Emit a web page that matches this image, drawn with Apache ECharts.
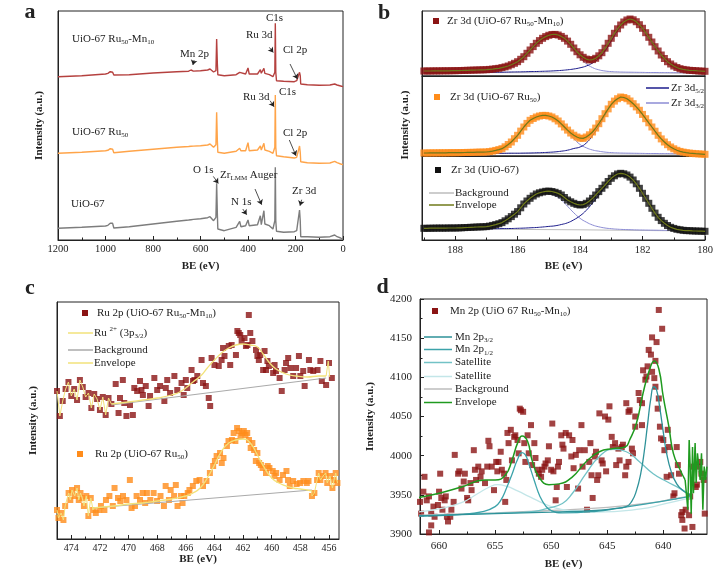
<!DOCTYPE html>
<html>
<head>
<meta charset="utf-8">
<title>XPS spectra</title>
<style>
  html, body { margin: 0; padding: 0; background: #fff; }
  #chart { width: 715px; height: 572px; }
</style>
</head>
<body>
<div id="chart"></div>
<script src="https://cdn.jsdelivr.net/npm/echarts@6/dist/echarts.min.js"></script>
<script>
// ---------------------------------------------------------------------------
// Data. Intensities of a, b, c are arbitrary units.
// ---------------------------------------------------------------------------

// (a) survey spectra
var surveyE = [1200, 1100, 1000, 990, 980, 975, 970, 965, 960, 900, 800, 700, 650, 640, 630, 600, 570, 560, 555, 545,
  540, 535, 532, 529, 527, 520, 500, 450, 435, 430, 410, 400, 395, 360, 348, 344, 338, 333, 329, 310,
  295, 287, 285, 283, 280, 250, 205, 195, 188, 183, 180, 178, 150, 100, 55, 50, 35, 30, 25, 10, 0];
var surveyUio = [11.7, 12.7, 14, 14.7, 16.7, 18.3, 16.7, 12, 11.3, 13.3, 16, 18.7, 20, 20.3, 20.6, 21.3, 22.3, 23.3, 23, 19.3,
  18.7, 22.7, 56.7, 26, 11, 9.3, 9.3, 12.7, 18.7, 13.3, 14.3, 20, 14.3, 15.3, 24.3, 15.3, 16.7, 29.3, 16, 14.3,
  11, 19.3, 72.7, 19.3, 8.7, 7.7, 8.3, 9.3, 7.7, 30, 19.3, 3.3, 3.3, 2.7, 3.3, 4.3, 5, 6, 3.3, 2, 0.7];
var surveyRu = [86.7, 87.7, 89.3, 89.7, 91.3, 92, 90.7, 87.3, 86.7, 88.7, 90.7, 92.7, 93.5, 93.7, 93.9, 94.3, 95, 96, 95.3, 92.7,
  92, 95.3, 127.7, 99, 87.7, 86, 86.7, 88.7, 91.7, 89.3, 89.3, 97.3, 89.3, 90, 94, 90, 90.7, 96.7, 90, 88.7,
  86.7, 92.7, 145, 92.7, 84.3, 83.3, 82, 82.7, 81, 94, 87.7, 78.3, 77.3, 76.7, 77, 77.7, 78.7, 80, 77.3, 76, 75.3];
var surveyRuMn = [163.3, 164.3, 166, 166.7, 168.3, 169.3, 167.7, 165, 164, 165.3, 167, 168.3, 168.8, 170, 168.9, 169.3, 170, 171, 170.7, 168,
  167.3, 169.3, 201, 176, 165.3, 164, 164.3, 165.3, 167.7, 166, 166, 172, 166, 166, 170.3, 166.7, 167.3, 171.7, 166.7, 165.3,
  163.3, 167.7, 216.7, 167.7, 159.3, 158.7, 158.3, 159.3, 157.7, 167.7, 164.3, 156, 155.3, 154.7, 155, 155.3, 156, 156.3, 155, 154, 153.3];
// peak arrows: [fromE, fromI, toE, toI]
var surveyArrows = [[627, 180, 632, 175], [310, 192.6, 293.5, 187.6], [223, 176, 192, 161],
  [307, 139.3, 290.5, 133.3], [226, 100, 198, 84.3], [546, 63.6, 525, 56.6],
  [370.5, 51, 342.5, 35.3], [422, 31, 405.5, 25.3], [174, 40.3, 181, 34.3]];
var surveyTicks = [0, 200, 400, 600, 800, 1000, 1200];
var surveyMinor = [100, 300, 500, 700, 900, 1100];

// (b) Zr 3d
var zrE = [189.0, 188.9, 188.8, 188.7, 188.6, 188.5, 188.4, 188.3, 188.2, 188.1, 188.0, 187.9, 187.8, 187.7, 187.6, 187.5,
  187.4, 187.3, 187.2, 187.1, 187.0, 186.9, 186.8, 186.7, 186.6, 186.5, 186.4, 186.3, 186.2, 186.1, 186.0, 185.9,
  185.8, 185.7, 185.6, 185.5, 185.4, 185.3, 185.2, 185.1, 185.0, 184.9, 184.8, 184.7, 184.6, 184.5, 184.4, 184.3,
  184.2, 184.1, 184.0, 183.9, 183.8, 183.7, 183.6, 183.5, 183.4, 183.3, 183.2, 183.1, 183.0, 182.9, 182.8, 182.7,
  182.6, 182.5, 182.4, 182.3, 182.2, 182.1, 182.0, 181.9, 181.8, 181.7, 181.6, 181.5, 181.4, 181.3, 181.2, 181.1,
  181.0, 180.9, 180.8, 180.7, 180.6, 180.5, 180.4, 180.3, 180.2, 180.1, 180.0];
var zrRuMn = [4.0, 4.0, 4.0, 4.1, 4.1, 4.1, 4.2, 4.2, 4.2, 4.3, 4.3, 4.4, 4.5, 4.6, 4.7, 4.8, 4.9, 5.0, 5.1, 5.2,
  5.3, 5.6, 5.9, 6.3, 6.7, 7.4, 8.1, 9.0, 10.3, 11.7, 13.3, 15.7, 18.3, 21.7, 25.0, 28.4, 31.7, 34.4, 36.7, 38.4,
  39.7, 40.5, 40.6, 40.0, 38.6, 36.7, 33.9, 30.7, 27.0, 23.3, 20.2, 17.7, 15.9, 15.0, 15.4, 16.7, 19.2, 22.3, 26.8, 31.7,
  36.7, 41.7, 46.2, 50.0, 53.0, 55.0, 56.0, 55.2, 53.3, 50.3, 46.7, 42.3, 37.7, 33.0, 28.3, 24.0, 20.0, 16.5, 13.3, 11.0,
  9.0, 7.5, 6.3, 5.6, 5.1, 4.7, 4.5, 4.3, 4.0, 3.9, 3.7];
var zrRu = [4.0, 4.0, 4.1, 4.1, 4.1, 4.2, 4.2, 4.2, 4.3, 4.3, 4.3, 4.4, 4.4, 4.5, 4.6, 4.6, 4.7, 4.8, 4.9, 4.9,
  5.0, 5.4, 5.9, 6.6, 7.4, 8.3, 10.2, 12.5, 15.0, 18.3, 21.7, 25.9, 30.0, 33.6, 36.7, 38.5, 40.0, 41.0, 41.6, 41.6,
  41.0, 40.0, 38.2, 36.0, 33.1, 30.0, 26.9, 24.0, 21.8, 20.0, 18.8, 18.6, 20.0, 22.2, 25.0, 28.9, 33.3, 38.3, 43.3, 48.1,
  52.7, 55.9, 58.3, 60.0, 59.5, 58.3, 56.0, 53.3, 50.1, 46.7, 42.6, 38.3, 34.2, 30.0, 25.8, 21.7, 18.1, 15.0, 12.3, 10.0,
  8.2, 6.7, 5.6, 4.9, 4.3, 3.9, 3.6, 3.3, 3.1, 2.9, 2.7];
var zrUio = [11.0, 11.0, 11.1, 11.1, 11.2, 11.2, 11.2, 11.2, 11.3, 11.3, 11.3, 11.4, 11.5, 11.7, 11.8, 12.0, 12.1, 12.3, 12.4, 12.5,
  12.7, 13.2, 13.9, 14.7, 15.6, 16.7, 18.5, 20.5, 22.7, 25.1, 27.7, 31.5, 35.3, 38.3, 41.0, 43.3, 45.3, 46.5, 47.3, 48.0,
  48.2, 47.8, 47.0, 45.9, 44.3, 41.8, 39.3, 37.5, 36.0, 34.9, 34.3, 34.7, 36.0, 38.3, 41.0, 44.3, 47.7, 51.0, 54.3, 57.8,
  61.0, 63.5, 65.3, 66.0, 65.5, 64.3, 62.2, 59.3, 55.5, 51.0, 46.0, 41.0, 36.0, 31.0, 26.2, 22.0, 18.7, 16.0, 13.8, 12.0,
  10.9, 10.0, 9.5, 9.0, 8.7, 8.6, 8.4, 8.3, 8.2, 8.1, 8.0];
var zrCompE = [189, 188, 187, 186.5, 186.2, 186, 185.8, 185.6, 185.4, 185.2, 185, 184.8, 184.6, 184.4, 184.2, 184, 183.8,
  183.6, 183.4, 183.2, 183, 182.8, 182.6, 182.4, 182.2, 182, 181.8, 181.6, 181.4, 181.2, 181, 180.5, 180];
var zrRuMn32 = [2.3, 2.6, 3.6, 6.5, 9.8, 12.5, 17.2, 23.8, 30.3, 35.2, 38.3, 39.3, 37.3, 32.2, 24.8, 17.2, 11.3,
  7.4, 5.2, 4.0, 3.4, 3.1, 2.9, 2.8, 2.7, 2.6, 2.5, 2.5, 2.4, 2.4, 2.3, 2.3, 2.2];
var zrRuMn52 = [2.3, 2.4, 2.6, 2.8, 3.0, 3.1, 3.2, 3.4, 3.5, 3.7, 3.9, 4.2, 4.6, 5.2, 6.0, 7.2, 9.0,
  12.0, 16.5, 24.0, 34.0, 44.5, 52.5, 55.8, 53.0, 46.5, 37.5, 28.2, 19.9, 13.2, 9.0, 4.6, 3.6];
var zrRu32 = [4.0, 4.3, 5.0, 8.2, 14.8, 21.4, 29.6, 36.2, 39.4, 40.9, 40.2, 37.2, 32.0, 25.8, 18.5, 12.5, 9.2,
  7.0, 5.8, 4.9, 4.4, 4.1, 3.9, 3.8, 3.7, 3.6, 3.5, 3.5, 3.4, 3.4, 3.3, 3.1, 2.8];
var zrRu52 = [3.6, 3.6, 3.7, 3.7, 3.8, 3.8, 3.9, 4.0, 4.2, 4.4, 4.7, 5.1, 5.8, 6.8, 8.5, 10.0, 14.0,
  21.5, 30.8, 42.0, 52.0, 58.0, 59.6, 56.0, 50.0, 42.5, 34.0, 25.8, 18.0, 12.2, 8.2, 3.9, 2.7];
var zrUio32 = [10.8, 11.1, 12.4, 16.3, 22.1, 26.9, 34.3, 39.8, 43.8, 45.6, 45.5, 43.5, 39.5, 33.0, 26.5, 21.0, 17.2,
  14.3, 12.5, 11.3, 10.6, 10.1, 9.8, 9.6, 9.4, 9.3, 9.2, 9.1, 9.0, 8.9, 8.8, 8.5, 8.2];
var zrUio52 = [10.3, 10.4, 10.5, 10.7, 10.8, 11.0, 11.2, 11.5, 11.8, 12.3, 12.9, 13.5, 14.8, 16.5, 19.5, 23.5, 29.0,
  36.3, 44.0, 52.3, 59.7, 64.7, 65.3, 62.0, 55.3, 46.0, 36.0, 26.3, 18.8, 13.9, 11.0, 8.7, 8.0];
var zrBgE = [189, 184, 180];
var zrRuMnBg = [2.5, 2.2, 1.8];
var zrRuBg = [3.8, 3.4, 2.6];
var zrUioBg = [10.5, 9.5, 8.2];
var zrTicks = [180, 182, 184, 186, 188];
var zrMinor = [181, 183, 185, 187, 189];

// (c) Ru 2p, points are [BE, intensity]
var ruMnPts = [[475.0, 148], [474.8, 123], [474.6, 138], [474.4, 150], [474.2, 157], [474.0, 143], [473.8, 150], [473.6, 139],
  [473.4, 159], [473.2, 152], [473.0, 142], [472.8, 146], [472.6, 131], [472.4, 145], [472.2, 140], [472.0, 129],
  [471.8, 142], [471.6, 124], [471.4, 141], [471.2, 135],
  [470.9, 155], [470.7, 126], [470.6, 141], [470.4, 159], [470.3, 136], [470.15, 123], [469.9, 134], [469.7, 124],
  [469.6, 151], [469.4, 148], [469.2, 158], [469.1, 149], [469.0, 144], [468.8, 153], [468.6, 133], [468.5, 143],
  [468.2, 161], [468.0, 149], [467.8, 153], [467.5, 138], [467.4, 151], [467.3, 159], [467.1, 146], [466.8, 163],
  [466.6, 149], [466.3, 156], [466.15, 144], [466.0, 159], [465.9, 151], [465.6, 169], [465.5, 158], [465.4, 159],
  [465.2, 163], [464.9, 179], [464.8, 156], [464.6, 153], [464.4, 141], [464.3, 133], [464.2, 181], [464.0, 174],
  [463.7, 173], [463.5, 179], [463.4, 191], [463.3, 183], [463.0, 193], [462.9, 174], [462.8, 194], [462.5, 184],
  [462.4, 208], [462.3, 206], [462.2, 204], [462.1, 198], [461.9, 201], [461.8, 193], [461.7, 194], [461.6, 224],
  [461.5, 206], [461.35, 198], [461.1, 189], [461.0, 183], [460.9, 179], [460.8, 184], [460.6, 169], [460.5, 188],
  [460.4, 169], [460.3, 178], [460.2, 173], [459.9, 166], [459.8, 174], [459.7, 168], [459.45, 161], [459.3, 148],
  [459.1, 169], [459.0, 176], [458.85, 181], [458.7, 171], [458.5, 163], [458.3, 171], [458.1, 183], [458.0, 163],
  [457.8, 168], [457.7, 153], [457.4, 179], [457.3, 169], [457.1, 168], [456.8, 169], [456.6, 178], [456.5, 158],
  [456.2, 154], [456.0, 176], [455.8, 161]];
var ruMnEnv = [[471.2, 135], [470, 137], [469, 139], [468, 141], [467, 144], [466.3, 148], [465.5, 157], [464.9, 164],
  [464.5, 171], [464, 179], [463.5, 186], [463, 191], [462.5, 194], [462, 195], [461.5, 194], [461, 192],
  [460.6, 185], [460.2, 177], [459.7, 170], [459, 165], [458.3, 163], [457.5, 162], [456.7, 163], [456.2, 163]];
var ruMnTail = [[456.2, 163], [456.05, 178], [455.95, 162]];
var ruMnBg = [[471.2, 134], [456.2, 161]];
var ruPts = [[475.0, 29], [474.9, 21], [474.71, 26], [474.55, 19], [474.43, 33], [474.19, 46], [474.07, 39], [473.95, 49],
  [473.76, 43], [473.6, 51], [473.48, 39], [473.36, 46], [473.24, 41], [473.12, 33], [472.95, 43], [472.81, 23],
  [472.64, 41], [472.48, 29],
  [472.29, 26], [472.05, 29], [471.93, 33], [471.69, 29], [471.58, 39], [471.34, 43], [471.1, 33], [470.98, 51],
  [470.74, 41], [470.58, 38], [470.39, 43], [470.15, 39], [469.91, 59], [469.79, 31], [469.55, 33], [469.44, 43],
  [469.2, 39], [469.01, 46], [468.84, 36], [468.72, 46], [468.48, 39], [468.25, 46], [468.01, 38], [467.77, 43],
  [467.53, 33], [467.41, 53], [467.18, 39], [467.06, 49], [466.82, 43], [466.7, 54], [466.58, 33], [466.34, 43],
  [466.23, 36], [466.11, 43], [465.87, 46], [465.75, 49], [465.51, 53], [465.27, 58], [465.04, 59], [464.8, 53],
  [464.56, 58], [464.32, 66], [464.09, 73], [463.97, 78], [463.85, 83], [463.61, 86], [463.49, 76], [463.37, 81],
  [463.13, 93], [463.02, 98], [462.78, 99], [462.66, 106], [462.54, 98], [462.42, 111], [462.3, 108], [462.18, 103],
  [462.06, 106], [461.95, 108], [461.83, 104], [461.71, 106], [461.59, 99], [461.47, 91], [461.35, 96], [461.23, 89],
  [461.11, 78], [461.0, 86], [460.88, 76], [460.76, 74], [460.64, 71], [460.4, 66], [460.28, 73], [460.16, 71],
  [459.93, 68], [459.81, 63], [459.69, 66], [459.45, 59], [459.21, 64], [458.97, 68], [458.86, 59], [458.74, 53],
  [458.5, 58], [458.26, 55], [458.02, 56], [457.79, 58], [457.55, 56], [457.43, 58],
  [457.19, 43], [457.02, 46], [456.83, 59], [456.72, 66], [456.6, 59], [456.41, 63], [456.24, 66], [456.12, 56],
  [455.93, 63], [455.76, 51], [455.65, 59], [455.53, 66], [455.41, 56]];
var ruEnv = [[472.5, 31], [471, 33], [470, 35], [469, 36], [468, 38], [467, 40], [466, 43], [465.5, 46], [465, 51],
  [464.5, 61], [464, 74], [463.5, 88], [463, 96], [462.5, 99], [462, 100], [461.5, 96], [461, 84], [460.5, 71],
  [460, 61], [459.5, 56], [459, 53], [458.5, 51], [458, 50], [457.5, 49], [457.2, 48]];
var ruBg = [[472.5, 31], [457.2, 49]];
var ruTicks = [456, 458, 460, 462, 464, 466, 468, 470, 472, 474];
var ruMinor = [457, 459, 461, 463, 465, 467, 469, 471, 473];

// (d) Mn 2p, points are [BE, counts]
var mnPts = [[661.9, 3952], [661.7, 3941], [661.6, 3926], [661.4, 3954], [661.3, 3973], [661.1, 3943], [660.9, 3948],
  [660.9, 3902], [660.7, 3926], [660.7, 3911], [660.5, 3935], [660.4, 3922], [660.1, 3937], [660.0, 3954], [659.9, 3977],
  [659.8, 3946], [659.7, 3931], [659.5, 3943], [659.4, 3948], [659.3, 3922], [659.2, 3916], [659.0, 3922], [658.9, 3931],
  [658.7, 3941], [658.6, 4001], [658.3, 3977], [658.2, 3980], [658.0, 3958], [657.8, 3967], [657.7, 3977], [657.5, 3946],
  [657.4, 3943], [657.2, 3965], [657.1, 3956], [656.9, 4007], [656.8, 3982], [656.7, 3969], [656.5, 3986], [656.3, 3973],
  [656.2, 3980], [655.9, 3965], [655.7, 3986], [655.6, 4019], [655.5, 4012], [655.3, 3986], [655.1, 3956], [654.9, 3992],
  [654.8, 3980], [654.7, 3992], [654.5, 4005], [654.4, 3982], [654.2, 3977], [654.1, 3941], [654.0, 3969], [653.9, 4029],
  [653.8, 4016], [653.6, 4033], [653.5, 3994], [653.3, 4024], [653.2, 4026], [653.0, 4020], [652.9, 4003], [652.8, 4060],
  [652.7, 4058], [652.5, 4056], [652.4, 4016], [652.3, 3992], [652.1, 4026], [652.0, 4003], [651.8, 4039], [651.7, 3988],
  [651.5, 4016], [651.4, 3997], [651.2, 3982], [651.1, 3977], [650.9, 3973], [650.8, 3982], [650.6, 3986], [650.5, 3990],
  [650.3, 3994], [650.2, 4012], [650.0, 3982], [649.9, 4041], [649.8, 3980], [649.6, 3943], [649.5, 3960], [649.4, 3986],
  [649.3, 3992], [649.1, 4026], [649.0, 4014], [648.9, 4009], [648.7, 4029], [648.6, 3960], [648.4, 4026], [648.2, 3999],
  [648.1, 4020], [648.0, 3984], [647.8, 4001], [647.6, 3958], [647.5, 4007], [647.3, 4039], [647.2, 3986], [647.0, 4007],
  [646.8, 3931], [646.6, 3992], [646.5, 4016], [646.4, 3975], [646.3, 3946], [646.1, 3999], [646.0, 4005], [645.9, 3969],
  [645.8, 3975], [645.7, 4054], [645.5, 3994], [645.4, 3990], [645.2, 4050], [645.1, 3980], [644.9, 4046], [644.8, 4063],
  [644.6, 4024], [644.5, 4011], [644.3, 4016], [644.2, 3988], [644.0, 4009], [643.9, 3994], [643.7, 4011], [643.6, 4014],
  [643.4, 3975], [643.3, 3986], [643.3, 4067], [643.1, 4056], [643.1, 3992], [643.0, 4058], [642.8, 4009], [642.7, 4003],
  [642.5, 4050], [642.5, 4037], [642.2, 4080], [642.1, 4071], [641.9, 4067], [641.9, 4039], [641.8, 4109], [641.6, 4097],
  [641.5, 4101], [641.4, 4114], [641.3, 4135], [641.1, 4129], [641.0, 4151], [641.0, 4107], [640.8, 4099], [640.7, 4088],
  [640.7, 4121], [640.6, 4145], [640.5, 4060], [640.4, 4073], [640.4, 4186], [640.3, 4037], [640.2, 4022], [640.1, 4162],
  [640.0, 4020], [639.9, 4007], [639.7, 3973], [639.6, 4033], [639.5, 4011], [639.3, 3975], [639.1, 3948], [639.0, 3952],
  [638.8, 4011], [638.7, 3988], [638.6, 3977], [638.4, 3924], [638.3, 3928], [638.3, 3918], [638.1, 3907], [638.0, 3931],
  [637.7, 3924], [637.6, 3948], [637.4, 3909], [637.3, 3986], [637.1, 3960], [637.0, 3963], [636.9, 3986], [636.7, 3992],
  [636.6, 3977], [636.4, 3969], [636.3, 3926]];
var mn32 = [[662, 3923], [655, 3926], [650, 3928], [646, 3930], [644.5, 3932], [643.3, 3935], [642.8, 3942], [642.4, 3955],
  [642, 3978], [641.7, 4005], [641.4, 4040], [641.1, 4074], [640.85, 4088], [640.6, 4084], [640.3, 4060], [640, 4030],
  [639.7, 4003], [639.3, 3980], [638.8, 3964], [638.2, 3955], [637.6, 3950]];
var mn12 = [[662, 3923], [658, 3925], [656, 3929], [655, 3935], [654.5, 3943], [654, 3958], [653.5, 3976], [653, 3995],
  [652.6, 4004], [652.3, 4001], [652, 3990], [651.5, 3968], [651, 3948], [650.5, 3936], [650, 3930], [649, 3927],
  [646, 3929], [644, 3933], [640, 3942], [637.6, 3948]];
var mnSat1 = [[662, 3923], [654, 3927], [651.5, 3929], [650.5, 3932], [649, 3939], [648.1, 3952], [646.9, 3977],
  [645.7, 3999], [644.5, 4008], [643.3, 4005], [642.1, 3992], [640.9, 3977], [639.7, 3967], [638.5, 3958], [637.6, 3950]];
var mnSat2 = [[662, 3928], [660, 3932], [658, 3940], [656.5, 3952], [655.5, 3960], [654.8, 3963], [654, 3961], [653, 3955],
  [652, 3948], [651, 3941], [650, 3935], [648.5, 3930], [646, 3928], [642, 3932], [640, 3938], [637.6, 3946]];
var mnBg = [[662, 3924], [655, 3927], [650, 3930], [645, 3934], [641, 3940], [639, 3945], [637.6, 3948]];
var mnEnv = [[662, 3946], [660, 3952], [658, 3960], [655.9, 3969], [655, 3969], [654.1, 3975], [653.5, 3994], [653, 4016],
  [652.6, 4025], [652.1, 4018], [651.7, 3994], [651.1, 3973], [650.2, 3963], [649.3, 3964], [648.1, 3973], [646.9, 3992],
  [645.7, 4005], [644.5, 4009], [643.4, 4011], [643, 4020], [642.4, 4041], [641.8, 4080], [641.2, 4111], [640.8, 4121],
  [640.4, 4111], [640, 4075], [639.5, 4037], [639.1, 4003], [638.5, 3982], [638.05, 3969]];
var mnEnvTail = [[638.05, 3969], [637.81, 3931], [637.69, 4020], [637.6, 3986], [637.51, 3926], [637.39, 4011],
  [637.31, 3952], [637.16, 4016], [637.07, 3965], [636.95, 4003], [636.83, 3986], [636.71, 3969], [636.59, 4003],
  [636.47, 3931], [636.35, 3986], [636.23, 3969], [636.11, 3986]];
var mnTicks = [640, 645, 650, 655, 660];
var mnMinor = [637.5, 642.5, 647.5, 652.5, 657.5];

// ---------------------------------------------------------------------------
// Chart
// ---------------------------------------------------------------------------
(function () {
  var SERIF = '"Liberation Serif", "Times New Roman", serif';
  var INK = '#222';
  var RICH = {
    s: { fontFamily: SERIF, fontSize: 7, lineHeight: 14, verticalAlign: 'bottom', fill: INK },
    u: { fontFamily: SERIF, fontSize: 7, lineHeight: 14, verticalAlign: 'top', fill: INK }
  };

  // axis index of each panel
  var X = { a: 0, b1: 2, b2: 3, b3: 4, c: 6, d: 8 };
  var Y = { a: 0, b1: 1, b2: 2, b3: 3, c: 4, d: 5 };

  // plain numbers, no thousands separator
  function plain(v) {
    return String(v);
  }

  function zip(xs, ys) {
    return xs.map(function (x, i) { return [x, ys[i]]; });
  }

  function grid(left, top, width, height) {
    return {
      left: left, top: top, width: width, height: height,
      show: true, borderColor: INK, borderWidth: 1, backgroundColor: '#fff',
      containLabel: false, outerBoundsMode: 'none'
    };
  }

  // main x axis + an overlay axis that only draws the minor ticks
  function xPair(gridIndex, min, max, major, minor, o) {
    o = o || {};
    var main = {
      type: 'value', gridIndex: gridIndex, min: min, max: max, inverse: true, position: 'bottom',
      axisLine: { onZero: false, lineStyle: { color: INK, width: 1 } },
      axisTick: { show: o.ticks !== false, inside: true, length: 4, customValues: major, lineStyle: { color: INK } },
      axisLabel: {
        show: o.ticks !== false, customValues: major, margin: o.margin || 5, formatter: plain,
        fontFamily: SERIF, fontSize: o.size || 10, color: INK
      },
      splitLine: { show: false },
      name: o.name || '', nameLocation: 'middle', nameGap: o.gap || 20,
      nameTextStyle: { fontFamily: SERIF, fontSize: 11, fontWeight: 'bold', color: INK }
    };
    if (!minor) return [main];
    var sub = {
      type: 'value', gridIndex: gridIndex, min: min, max: max, inverse: true, position: 'bottom',
      axisLine: { show: false, onZero: false },
      axisTick: { show: true, inside: true, length: 2.5, customValues: minor, lineStyle: { color: INK } },
      axisLabel: { show: false },
      splitLine: { show: false }
    };
    return [main, sub];
  }

  function yPlain(gridIndex, min, max, name, gap) {
    return {
      type: 'value', gridIndex: gridIndex, min: min, max: max,
      axisLine: { onZero: false, lineStyle: { color: INK, width: 1 } },
      axisTick: { show: false }, axisLabel: { show: false }, splitLine: { show: false },
      name: name || '', nameLocation: 'middle', nameGap: gap || 10, nameRotate: 90,
      nameTextStyle: { fontFamily: SERIF, fontSize: 11, fontWeight: 'bold', color: INK }
    };
  }

  function line(panel, data, color, width, smooth, z) {
    return {
      type: 'line', xAxisIndex: X[panel], yAxisIndex: Y[panel], data: data,
      symbol: 'none', smooth: smooth || false, silent: true, z: z || 4,
      lineStyle: { color: color, width: width }
    };
  }

  function dots(panel, data, color, size) {
    return {
      type: 'scatter', xAxisIndex: X[panel], yAxisIndex: Y[panel], data: data,
      symbol: 'rect', symbolSize: size, silent: true, z: 3,
      itemStyle: { color: color }
    };
  }

  // graphic helpers for labels and hand-made legends
  function txt(x, y, str, o) {
    o = o || {};
    return {
      type: 'text', x: x, y: y, rotation: o.rot || 0, silent: true, z: 20,
      style: {
        text: str, fill: o.color || INK, fontFamily: SERIF, fontSize: o.size || 11,
        fontWeight: o.bold ? 'bold' : 'normal', lineHeight: 14,
        textAlign: o.align || 'left', textVerticalAlign: 'middle', rich: RICH
      }
    };
  }
  function sq(x, y, color) {
    return { type: 'rect', silent: true, z: 20, shape: { x: x - 3, y: y - 3, width: 6, height: 6 }, style: { fill: color } };
  }
  function seg(x1, x2, y, color) {
    return { type: 'line', silent: true, z: 20, shape: { x1: x1, y1: y, x2: x2, y2: y }, style: { stroke: color, lineWidth: 1.5 } };
  }

  // colours
  var C = {
    svRuMn: '#b5413f', svRu: '#ffa449', svUio: '#7d7d7d',
    maroon: '#8b1414', orange: '#ff8c1a', black: '#111',
    olive: '#6f7a1a', navy: '#1c1c8c', lilac: '#8c8cd4', bg: '#bdbdbd',
    yellow: '#f2e27a',
    t32: '#2e9299', t12: '#3ca3aa', sat1: '#72c2c6', sat2: '#c3e6e8', green: '#1f9a1f'
  };

  var xAxis = []
    .concat(xPair(0, 0, 1200, surveyTicks, surveyMinor, { name: 'BE (eV)', gap: 21, margin: 4, size: 10.5 }))
    .concat(xPair(1, 180, 189.06, zrTicks, null, { ticks: false }))
    .concat(xPair(2, 180, 189.06, zrTicks, null, { ticks: false }))
    .concat(xPair(3, 180, 189.06, zrTicks, zrMinor, { name: 'BE (eV)', gap: 21, margin: 5, size: 10.5 }))
    .concat(xPair(4, 455.3, 475.0, ruTicks, ruMinor, { name: 'BE (eV)', gap: 14, margin: 4, size: 10 }))
    .concat(xPair(5, 636.1, 661.7, mnTicks, mnMinor, { name: 'BE (eV)', gap: 25, margin: 7, size: 11 }));

  var yAxis = [
    yPlain(0, 0, 229, 'Intensity (a.u.)', 13),
    yPlain(1, -1, 64),
    yPlain(2, 1, 81),
    yPlain(3, -0.7, 83.3),
    yPlain(4, 0, 237, 'Intensity (a.u.)', 18),
    {
      type: 'value', gridIndex: 5, min: 3900, max: 4200, interval: 50,
      axisLine: { onZero: false, lineStyle: { color: INK, width: 1 } },
      axisTick: { inside: true, length: 4, lineStyle: { color: INK } },
      minorTick: { show: true, splitNumber: 2, length: 2.5, lineStyle: { color: INK } },
      axisLabel: { margin: 8, formatter: plain, fontFamily: SERIF, fontSize: 11, color: INK },
      splitLine: { show: false },
      name: 'Intensity (a.u.)', nameLocation: 'middle', nameGap: 44, nameRotate: 90,
      nameTextStyle: { fontFamily: SERIF, fontSize: 11, fontWeight: 'bold', color: INK }
    }
  ];

  var series = [];

  // (a) survey
  var gray = line('a', zip(surveyE, surveyUio), C.svUio, 1.4);
  gray.markLine = {
    silent: true, symbol: ['none', 'arrow'], symbolSize: 5, animation: false,
    label: { show: false },
    lineStyle: { color: INK, width: 0.8, type: 'solid' },
    data: surveyArrows.map(function (a) {
      return [{ coord: [a[0], a[1]] }, { coord: [a[2], a[3]] }];
    })
  };
  series.push(line('a', zip(surveyE, surveyRuMn), C.svRuMn, 1.4));
  series.push(line('a', zip(surveyE, surveyRu), C.svRu, 1.4));
  series.push(gray);

  // (b) Zr 3d, three stacked frames
  [
    ['b1', zrRuMn, zrRuMn32, zrRuMn52, zrRuMnBg, C.maroon],
    ['b2', zrRu, zrRu32, zrRu52, zrRuBg, C.orange],
    ['b3', zrUio, zrUio32, zrUio52, zrUioBg, C.black]
  ].forEach(function (p) {
    series.push(line(p[0], zip(zrBgE, p[4]), C.bg, 1, false, 2));
    series.push(line(p[0], zip(zrCompE, p[2]), C.lilac, 1, true, 2));
    series.push(line(p[0], zip(zrCompE, p[3]), C.navy, 1, true, 2));
    series.push(dots(p[0], zip(zrE, p[1]), p[5], 7));
    series.push(line(p[0], zip(zrE, p[1]), C.olive, 1.2, false, 4));
  });

  // (c) Ru 2p
  series.push(dots('c', ruMnPts, C.maroon, 6));
  series.push(dots('c', ruPts, C.orange, 6));
  series.push(line('c', ruMnBg, '#aaa', 1.2));
  series.push(line('c', ruBg, '#aaa', 1.2));
  series.push(line('c', ruMnPts.filter(function (p) { return p[0] >= 471.2; }), C.yellow, 1));
  series.push(line('c', ruMnEnv, C.yellow, 1.3, true));
  series.push(line('c', ruMnTail, C.yellow, 1));
  series.push(line('c', ruPts.filter(function (p) { return p[0] >= 472.4; }).concat([ruEnv[0]]), C.yellow, 1));
  series.push(line('c', ruEnv, C.yellow, 1.3, true));
  series.push(line('c', [ruEnv[ruEnv.length - 1]].concat(ruPts.filter(function (p) { return p[0] <= 457.2; })), C.yellow, 1));

  // (d) Mn 2p
  series.push(dots('d', mnPts, C.maroon, 6));
  series.push(line('d', mnBg, C.bg, 1.3, true));
  series.push(line('d', mnSat2, C.sat2, 1.3, true));
  series.push(line('d', mnSat1, C.sat1, 1.3, true));
  series.push(line('d', mn12, C.t12, 1.3, true));
  series.push(line('d', mn32, C.t32, 1.3, true));
  series.push(line('d', mnEnv, C.green, 1.5, true));
  series.push(line('d', mnEnvTail, C.green, 1.5));

  var graphic = [
    // panel letters
    txt(30, 12.5, 'a', { size: 22, bold: true, align: 'center' }),
    txt(384, 13.5, 'b', { size: 22, bold: true, align: 'center' }),
    txt(30, 288.5, 'c', { size: 22, bold: true, align: 'center' }),
    txt(382.5, 287, 'd', { size: 22, bold: true, align: 'center' }),

    // (a) labels
    txt(72, 39, 'UiO-67 Ru{s|50}-Mn{s|10}'),
    txt(180, 54, 'Mn 2p'),
    txt(246, 35, 'Ru 3d'),
    txt(266, 18, 'C1s'),
    txt(283, 50, 'Cl 2p'),
    txt(72, 132, 'UiO-67 Ru{s|50}'),
    txt(243, 97, 'Ru 3d'),
    txt(279, 92, 'C1s'),
    txt(283, 133, 'Cl 2p'),
    txt(71, 204, 'UiO-67'),
    txt(193, 170, 'O 1s'),
    txt(220, 175, 'Zr{s|LMM} Auger'),
    txt(231, 202, 'N 1s'),
    txt(292, 191, 'Zr 3d'),

    // (b) legend
    txt(405, 125, 'Intensity (a.u.)', { bold: true, align: 'center', rot: Math.PI / 2 }),
    sq(436, 21, C.maroon), txt(447, 21, 'Zr 3d (UiO-67 Ru{s|50}-Mn{s|10})'),
    sq(437, 97, C.orange), txt(450, 97, 'Zr 3d (UiO-67 Ru{s|50})'),
    sq(438, 170, C.black), txt(451, 170, 'Zr 3d (UiO-67)'),
    seg(429, 454, 193, C.bg), txt(455, 193, 'Background'),
    seg(429, 454, 205, C.olive), txt(455, 205, 'Envelope'),
    seg(646, 669, 88, C.navy), txt(671, 88, 'Zr 3d{s|5/2}'),
    seg(646, 669, 103, C.lilac), txt(671, 103, 'Zr 3d{s|3/2}'),

    // (c) legend
    sq(85, 313, C.maroon), txt(97, 313, 'Ru 2p (UiO-67 Ru{s|50}-Mn{s|10})'),
    seg(68, 93, 333, C.yellow), txt(94, 333, 'Ru {u|2+} (3p{s|3/2})'),
    seg(68, 93, 350, '#aaa'), txt(94, 350, 'Background'),
    seg(68, 93, 363, C.yellow), txt(94, 363, 'Envelope'),
    sq(80, 454, C.orange), txt(95, 454, 'Ru 2p (UiO-67 Ru{s|50})'),

    // (d) legend
    sq(435, 311, C.maroon), txt(450, 311, 'Mn 2p (UiO 67 Ru{s|50}-Mn{s|10})'),
    seg(424, 452, 337, C.t32), txt(455, 337, 'Mn 2p{s|3/2}'),
    seg(424, 452, 349.5, C.t12), txt(455, 349.5, 'Mn 2p{s|1/2}'),
    seg(424, 452, 362.5, C.sat1), txt(455, 362.5, 'Satellite'),
    seg(424, 452, 376.5, C.sat2), txt(455, 376.5, 'Satellite'),
    seg(424, 452, 389, C.bg), txt(455, 389, 'Background'),
    seg(424, 452, 402.5, C.green), txt(455, 402.5, 'Envelope')
  ];

  var chart = echarts.init(document.getElementById('chart'));
  chart.setOption({
    animation: false,
    backgroundColor: '#fff',
    grid: [
      grid(58, 11, 285, 229),
      grid(422, 11, 283, 65),
      grid(422, 76, 283, 80),
      grid(422, 156, 283, 84),
      grid(57, 302, 282, 237),
      grid(420, 299, 287, 235)
    ],
    xAxis: xAxis,
    yAxis: yAxis,
    series: series,
    graphic: graphic
  });
})();
</script>
</body>
</html>
